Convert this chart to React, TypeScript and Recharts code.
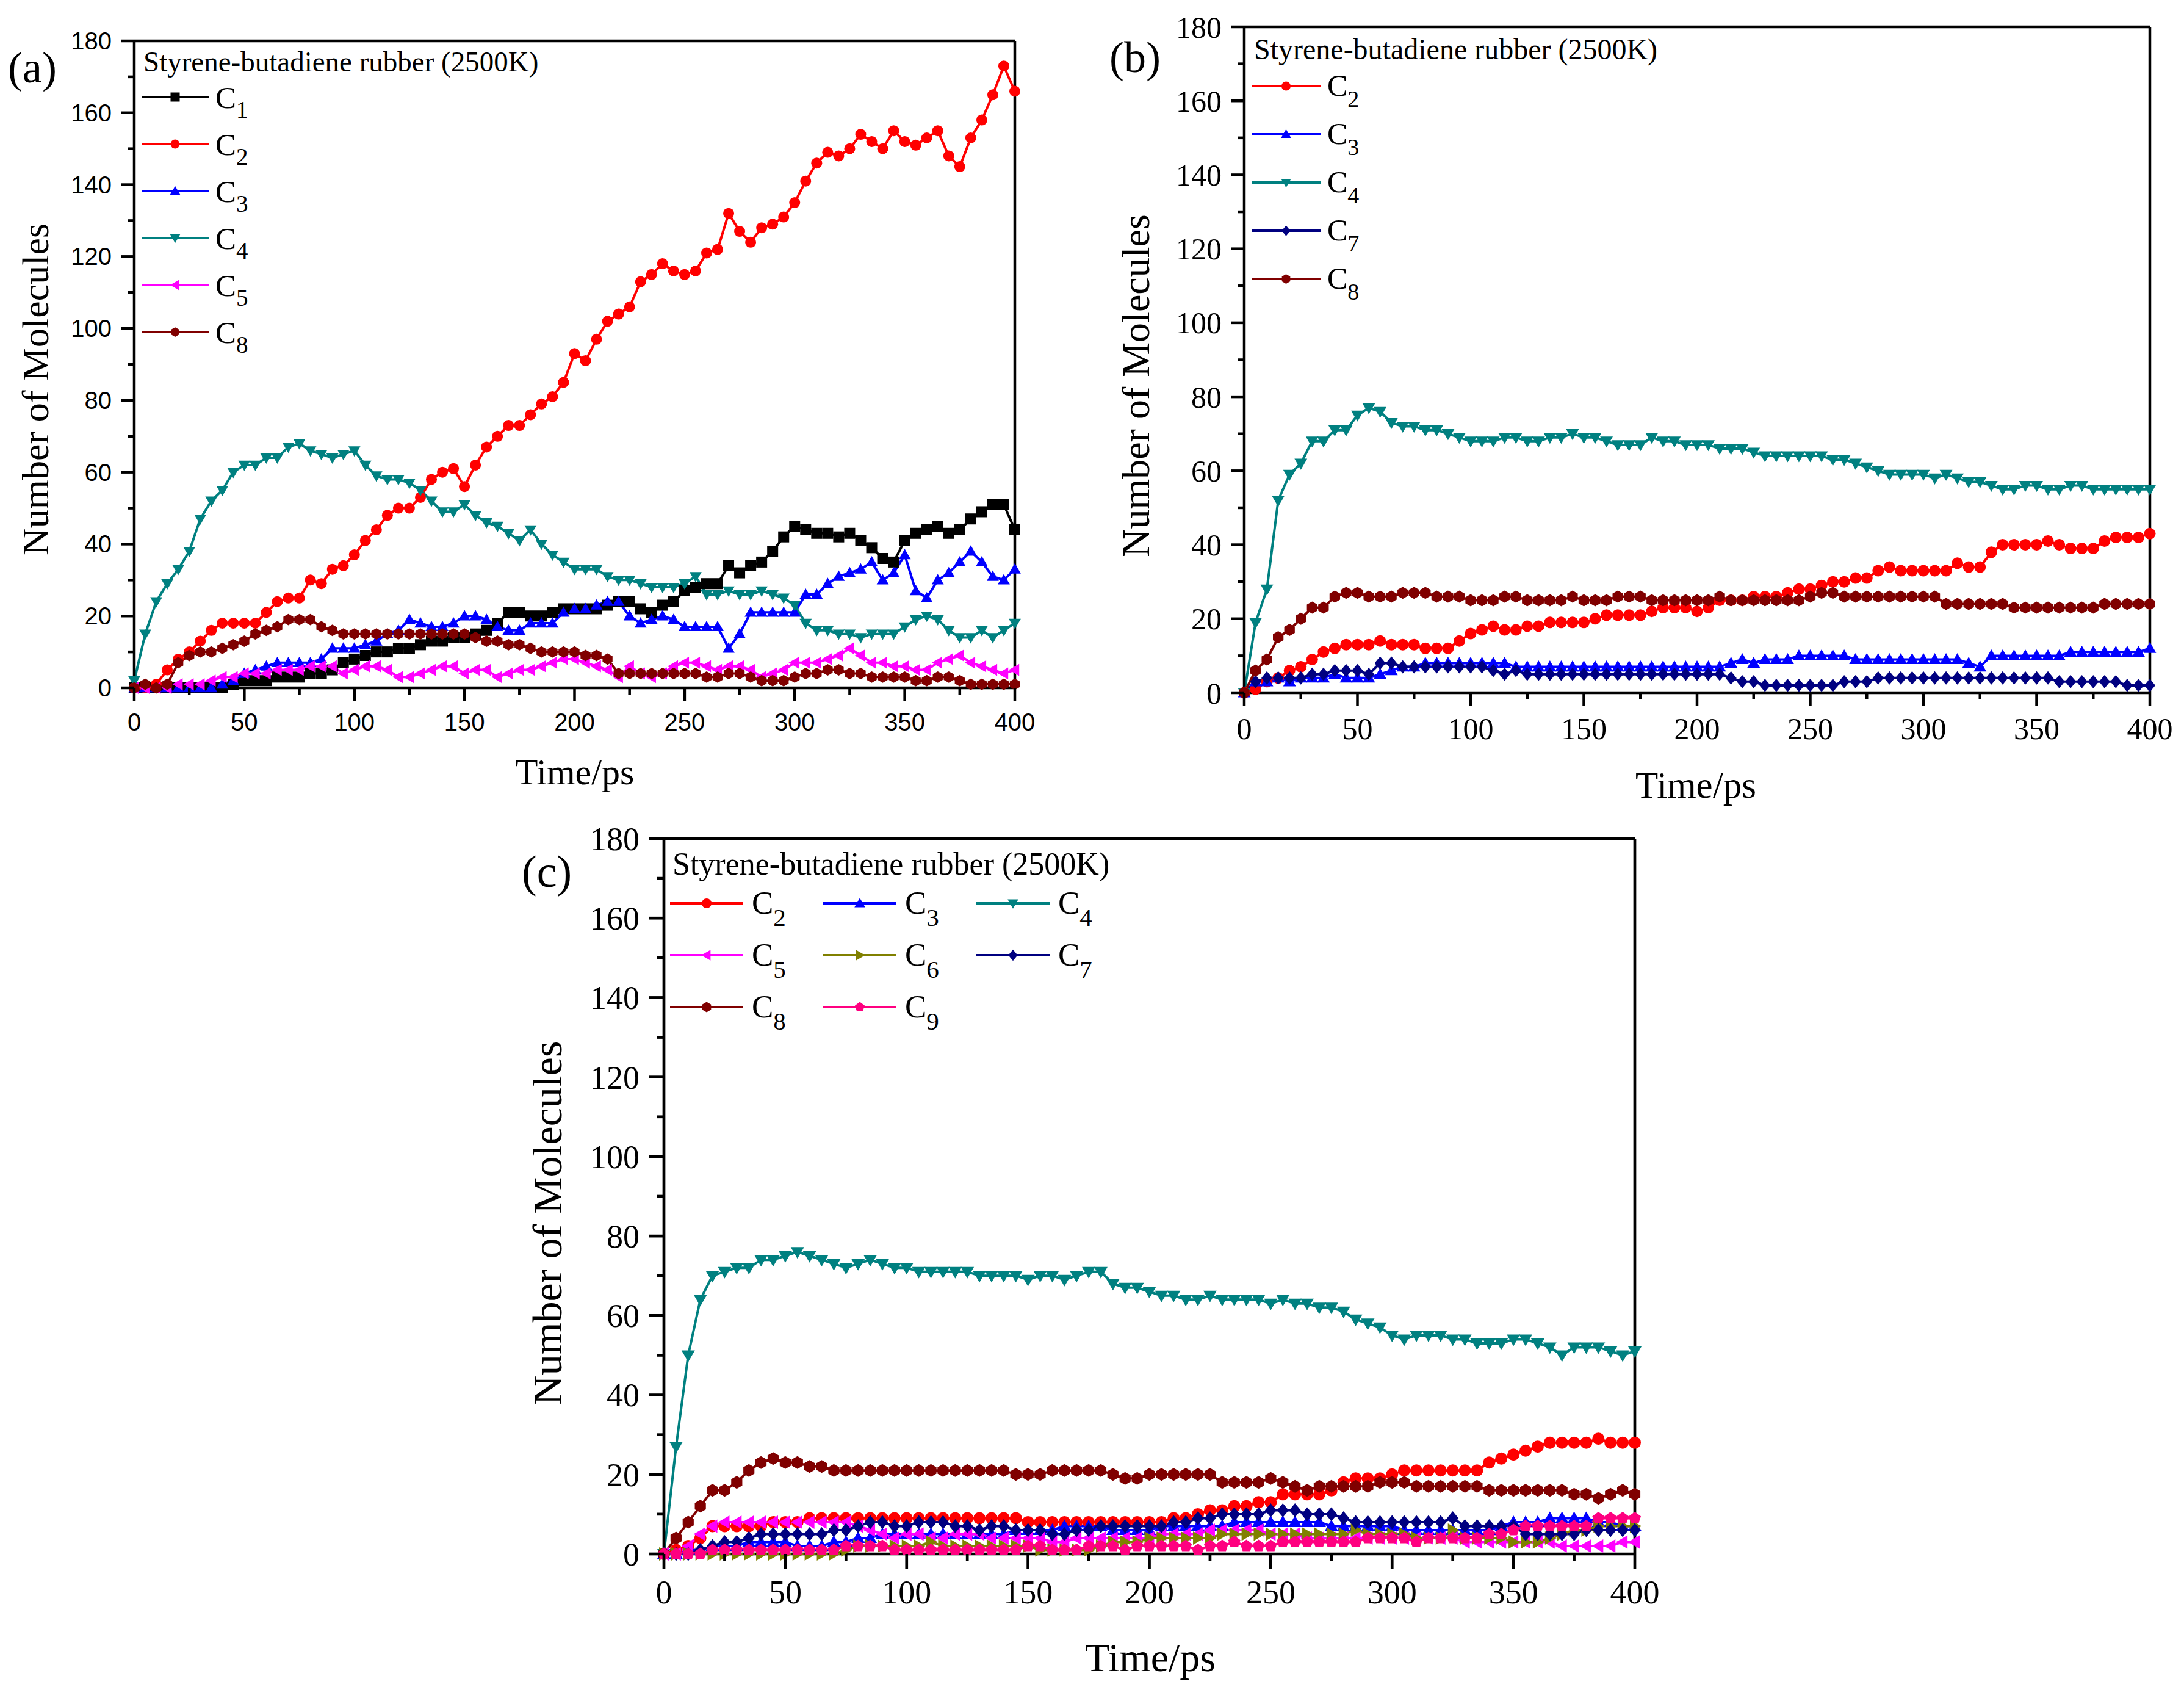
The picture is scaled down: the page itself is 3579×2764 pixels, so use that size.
import React from 'react';
import { LineChart, Line, XAxis, YAxis, ReferenceLine } from 'recharts';

// ---------- categories / ticks ----------
const timePs = [
  0, 5, 10, 15, 20, 25, 30, 35, 40, 45,
  50, 55, 60, 65, 70, 75, 80, 85, 90, 95,
  100, 105, 110, 115, 120, 125, 130, 135, 140, 145,
  150, 155, 160, 165, 170, 175, 180, 185, 190, 195,
  200, 205, 210, 215, 220, 225, 230, 235, 240, 245,
  250, 255, 260, 265, 270, 275, 280, 285, 290, 295,
  300, 305, 310, 315, 320, 325, 330, 335, 340, 345,
  350, 355, 360, 365, 370, 375, 380, 385, 390, 395,
  400,
];
const xTicks = [0, 25, 50, 75, 100, 125, 150, 175, 200, 225, 250, 275, 300, 325, 350, 375, 400];
const yTicks = [0, 10, 20, 30, 40, 50, 60, 70, 80, 90, 100, 110, 120, 130, 140, 150, 160, 170, 180];
const xMajorLabels = [0, 50, 100, 150, 200, 250, 300, 350, 400];
const yMajorLabels = [0, 20, 40, 60, 80, 100, 120, 140, 160, 180];

// ---------- panel (a) ----------
const aC1 = [
  0, 0, 0, 0, 0, 0, 0, 0, 0, 1,
  2, 2, 2, 3, 3, 3, 4, 4, 5, 7,
  8, 9, 10, 10, 11, 11, 12, 13, 13, 14,
  14, 15, 16, 18, 21, 21, 20, 20, 21, 22,
  22, 22, 22, 23, 24, 24, 22, 21, 23, 24,
  27, 28, 29, 29, 34, 32, 34, 35, 38, 42,
  45, 44, 43, 43, 42, 43, 41, 39, 36, 35,
  41, 43, 44, 45, 43, 44, 47, 49, 51, 51,
  44,
];
const aC2 = [
  0, 0, 1, 5, 8, 10, 13, 16, 18, 18,
  18, 18, 21, 24, 25, 25, 30, 29, 33, 34,
  37, 41, 44, 48, 50, 50, 53, 58, 60, 61,
  56, 62, 67, 70, 73, 73, 76, 79, 81, 85,
  93, 91, 97, 102, 104, 106, 113, 115, 118, 116,
  115, 116, 121, 122, 132, 127, 124, 128, 129, 131,
  135, 141, 146, 149, 148, 150, 154, 152, 150, 155,
  152, 151, 153, 155, 148, 145, 153, 158, 165, 173,
  166,
];
const aC3 = [
  0, 0, 0, 0, 0, 0, 0, 0, 1, 2,
  4, 5, 6, 7, 7, 7, 7, 8, 11, 11,
  11, 12, 13, 15, 16, 19, 18, 17, 17, 18,
  20, 20, 19, 17, 16, 16, 18, 18, 18, 21,
  22, 22, 23, 24, 24, 20, 18, 19, 20, 19,
  17, 17, 17, 17, 11, 15, 21, 21, 21, 21,
  21, 26, 26, 29, 31, 32, 33, 35, 30, 32,
  37, 27, 25, 30, 32, 35, 38, 35, 31, 30,
  33,
];
const aC4 = [
  2, 15, 24, 29, 33, 38, 47, 52, 55, 60,
  62, 62, 64, 64, 67, 68, 66, 65, 64, 65,
  66, 62, 59, 58, 58, 57, 55, 52, 49, 49,
  51, 48, 46, 45, 43, 41, 44, 40, 37, 35,
  33, 33, 33, 31, 30, 30, 29, 28, 28, 28,
  29, 31, 26, 26, 27, 26, 26, 27, 26, 25,
  23, 18, 16, 16, 15, 15, 14, 15, 15, 15,
  17, 19, 20, 19, 16, 14, 14, 16, 14, 16,
  18,
];
const aC5 = [
  0, 0, 0, 0, 1, 1, 1, 2, 3, 3,
  4, 4, 4, 5, 5, 5, 6, 6, 6, 4,
  5, 6, 6, 5, 3, 3, 4, 5, 6, 6,
  4, 5, 5, 3, 4, 5, 5, 6, 7, 8,
  8, 7, 6, 5, 3, 6, 4, 3, 4, 6,
  7, 7, 6, 5, 6, 6, 5, 3, 4, 5,
  7, 7, 7, 8, 9, 11, 9, 7, 7, 6,
  6, 5, 5, 7, 8, 9, 7, 6, 5, 4,
  5,
];
const aC8 = [
  0, 1, 0, 1, 7, 9, 10, 10, 11, 12,
  13, 15, 16, 17, 19, 19, 19, 17, 16, 15,
  15, 15, 15, 15, 15, 15, 15, 15, 15, 15,
  15, 14, 13, 13, 12, 12, 11, 10, 10, 10,
  10, 9, 9, 8, 4, 4, 4, 4, 4, 4,
  4, 4, 3, 3, 4, 4, 3, 2, 2, 2,
  3, 4, 4, 5, 5, 4, 4, 3, 3, 3,
  3, 2, 2, 3, 3, 2, 1, 1, 1, 1,
  1,
];

// ---------- panel (b) ----------
const bC2 = [
  0, 1, 3, 4, 6, 7, 9, 11, 12, 13,
  13, 13, 14, 13, 13, 13, 12, 12, 12, 14,
  16, 17, 18, 17, 17, 18, 18, 19, 19, 19,
  19, 20, 21, 21, 21, 21, 22, 23, 23, 23,
  22, 23, 25, 25, 25, 26, 26, 26, 27, 28,
  28, 29, 30, 30, 31, 31, 33, 34, 33, 33,
  33, 33, 33, 35, 34, 34, 38, 40, 40, 40,
  40, 41, 40, 39, 39, 39, 41, 42, 42, 42,
  43,
];
const bC3 = [
  0, 3, 3, 4, 3, 4, 4, 4, 5, 4,
  4, 4, 5, 6, 7, 7, 8, 8, 8, 8,
  8, 8, 8, 8, 7, 7, 7, 7, 7, 7,
  7, 7, 7, 7, 7, 7, 7, 7, 7, 7,
  7, 7, 7, 8, 9, 8, 9, 9, 9, 10,
  10, 10, 10, 10, 9, 9, 9, 9, 9, 9,
  9, 9, 9, 9, 8, 7, 10, 10, 10, 10,
  10, 10, 10, 11, 11, 11, 11, 11, 11, 11,
  12,
];
const bC4 = [
  0, 19, 28, 52, 59, 62, 68, 68, 71, 71,
  75, 77, 76, 73, 72, 72, 71, 71, 70, 69,
  68, 68, 68, 69, 69, 68, 68, 69, 69, 70,
  69, 69, 68, 67, 67, 67, 69, 68, 68, 67,
  67, 67, 66, 66, 66, 65, 64, 64, 64, 64,
  64, 64, 63, 63, 62, 61, 60, 59, 59, 59,
  59, 58, 59, 58, 57, 57, 56, 55, 55, 56,
  56, 55, 55, 56, 56, 55, 55, 55, 55, 55,
  55,
];
const bC7 = [
  0, 3, 4, 4, 4, 4, 5, 5, 6, 6,
  6, 5, 8, 8, 7, 7, 7, 7, 7, 7,
  7, 7, 6, 5, 6, 5, 5, 5, 5, 5,
  5, 5, 5, 5, 5, 5, 5, 5, 5, 5,
  5, 5, 5, 4, 3, 3, 2, 2, 2, 2,
  2, 2, 2, 3, 3, 3, 4, 4, 4, 4,
  4, 4, 4, 4, 4, 4, 4, 4, 4, 4,
  4, 4, 3, 3, 3, 3, 3, 3, 2, 2,
  2,
];
const bC8 = [
  0, 6, 9, 15, 17, 20, 23, 23, 26, 27,
  27, 26, 26, 26, 27, 27, 27, 26, 26, 26,
  25, 25, 25, 26, 26, 25, 25, 25, 25, 26,
  25, 25, 25, 26, 26, 26, 25, 25, 25, 25,
  25, 25, 26, 25, 25, 25, 25, 25, 25, 25,
  26, 27, 27, 26, 26, 26, 26, 26, 26, 26,
  26, 26, 24, 24, 24, 24, 24, 24, 23, 23,
  23, 23, 23, 23, 23, 23, 24, 24, 24, 24,
  24,
];

// ---------- panel (c) ----------
const cC2 = [
  0, 1, 2, 4, 7, 7, 7, 7, 7, 8,
  8, 8, 9, 9, 9, 9, 9, 9, 9, 9,
  9, 9, 9, 9, 9, 9, 9, 9, 9, 9,
  8, 8, 8, 8, 8, 8, 8, 8, 8, 8,
  8, 8, 9, 9, 10, 11, 11, 12, 12, 13,
  13, 15, 15, 15, 15, 16, 18, 19, 19, 19,
  20, 21, 21, 21, 21, 21, 21, 21, 23, 24,
  25, 26, 27, 28, 28, 28, 28, 29, 28, 28,
  28,
];
const cC3 = [
  0, 0, 1, 1, 2, 2, 2, 3, 3, 3,
  3, 2, 2, 2, 3, 3, 4, 4, 5, 5,
  5, 5, 5, 5, 5, 5, 5, 5, 5, 6,
  6, 6, 6, 7, 7, 7, 7, 6, 6, 6,
  6, 7, 7, 7, 7, 7, 7, 8, 8, 8,
  8, 8, 8, 8, 8, 7, 7, 7, 7, 7,
  7, 6, 6, 6, 6, 6, 6, 6, 6, 7,
  8, 8, 8, 9, 9, 9, 9, 8, 8, 7,
  7,
];
const cC4 = [
  0, 27, 50, 64, 70, 71, 72, 72, 74, 74,
  75, 76, 75, 74, 73, 72, 73, 74, 73, 72,
  72, 71, 71, 71, 71, 71, 70, 70, 70, 70,
  69, 70, 70, 69, 70, 71, 71, 68, 67, 67,
  66, 65, 65, 64, 64, 65, 64, 64, 64, 64,
  63, 64, 63, 63, 62, 62, 61, 59, 58, 57,
  55, 54, 55, 55, 55, 54, 54, 53, 53, 53,
  54, 54, 53, 52, 50, 52, 52, 52, 51, 50,
  51,
];
const cC5 = [
  0, 0, 2, 5, 7, 8, 8, 8, 8, 8,
  8, 8, 8, 8, 8, 8, 7, 6, 5, 4,
  5, 5, 4, 4, 5, 5, 5, 4, 4, 4,
  4, 4, 3, 3, 4, 4, 4, 4, 4, 4,
  4, 5, 5, 5, 5, 6, 6, 6, 6, 6,
  5, 5, 5, 4, 4, 4, 4, 4, 4, 4,
  4, 4, 4, 4, 4, 4, 3, 3, 3, 3,
  3, 3, 3, 3, 2, 2, 2, 2, 2, 3,
  3,
];
const cC6 = [
  0, 0, 0, 0, 0, 0, 0, 0, 0, 0,
  0, 0, 0, 0, 0, 1, 2, 2, 2, 2,
  2, 2, 3, 2, 2, 2, 2, 2, 2, 2,
  2, 1, 1, 1, 1, 1, 2, 3, 3, 3,
  4, 4, 4, 4, 4, 4, 5, 5, 5, 5,
  5, 5, 5, 5, 5, 5, 5, 6, 5, 5,
  5, 5, 4, 4, 4, 6, 4, 4, 4, 4,
  3, 3, 3, 4, 5, 6, 6, 7, 7, 7,
  7,
];
const cC7 = [
  0, 0, 0, 1, 2, 3, 3, 4, 5, 5,
  5, 5, 5, 5, 6, 6, 7, 8, 8, 7,
  7, 8, 8, 8, 7, 7, 6, 7, 7, 6,
  6, 6, 5, 5, 6, 6, 7, 7, 7, 7,
  7, 7, 8, 8, 9, 9, 10, 10, 10, 10,
  11, 11, 11, 10, 10, 10, 9, 8, 8, 8,
  8, 8, 8, 8, 8, 9, 7, 7, 7, 7,
  7, 5, 5, 5, 5, 5, 6, 6, 6, 6,
  6,
];
const cC8 = [
  0, 4, 8, 12, 16, 16, 18, 21, 23, 24,
  23, 23, 22, 22, 21, 21, 21, 21, 21, 21,
  21, 21, 21, 21, 21, 21, 21, 21, 21, 20,
  20, 20, 21, 21, 21, 21, 21, 20, 19, 19,
  20, 20, 20, 20, 20, 20, 18, 18, 18, 18,
  19, 18, 17, 16, 17, 17, 17, 17, 17, 18,
  18, 18, 17, 17, 17, 17, 17, 17, 16, 16,
  16, 16, 16, 16, 16, 15, 15, 14, 15, 16,
  15,
];
const cC9 = [
  0, 0, 0, 0, 1, 1, 1, 1, 1, 1,
  1, 1, 1, 1, 1, 2, 2, 2, 2, 1,
  1, 1, 1, 1, 1, 1, 1, 1, 1, 1,
  2, 2, 1, 1, 1, 2, 2, 2, 1, 2,
  2, 2, 2, 2, 1, 2, 2, 3, 2, 2,
  2, 3, 3, 3, 3, 3, 3, 3, 4, 4,
  4, 4, 3, 4, 4, 4, 4, 4, 5, 5,
  6, 7, 7, 7, 7, 7, 7, 9, 9, 9,
  9,
];

// ---------- styling ----------
const SERIF = "'Liberation Serif', 'Times New Roman', Times, serif";
const SANS = "'Liberation Sans', Arial, Helvetica, sans-serif";
const TITLE = 'Styrene-butadiene rubber (2500K)';

type Shape = 'square' | 'circle' | 'triUp' | 'triDown' | 'triLeft' | 'triRight' | 'diamond' | 'hexagon' | 'pentagon';

interface SeriesDef { key: string; sub: string; color: string; shape: Shape; values: number[] }

const seriesA: SeriesDef[] = [
  { key: 'c1', sub: '1', color: '#000000', shape: 'square', values: aC1 },
  { key: 'c2', sub: '2', color: '#FF0000', shape: 'circle', values: aC2 },
  { key: 'c3', sub: '3', color: '#0000FF', shape: 'triUp', values: aC3 },
  { key: 'c4', sub: '4', color: '#008080', shape: 'triDown', values: aC4 },
  { key: 'c5', sub: '5', color: '#FF00FF', shape: 'triLeft', values: aC5 },
  { key: 'c8', sub: '8', color: '#800000', shape: 'hexagon', values: aC8 },
];
const seriesB: SeriesDef[] = [
  { key: 'c2', sub: '2', color: '#FF0000', shape: 'circle', values: bC2 },
  { key: 'c3', sub: '3', color: '#0000FF', shape: 'triUp', values: bC3 },
  { key: 'c4', sub: '4', color: '#008080', shape: 'triDown', values: bC4 },
  { key: 'c7', sub: '7', color: '#000080', shape: 'diamond', values: bC7 },
  { key: 'c8', sub: '8', color: '#800000', shape: 'hexagon', values: bC8 },
];
const seriesC: SeriesDef[] = [
  { key: 'c2', sub: '2', color: '#FF0000', shape: 'circle', values: cC2 },
  { key: 'c3', sub: '3', color: '#0000FF', shape: 'triUp', values: cC3 },
  { key: 'c4', sub: '4', color: '#008080', shape: 'triDown', values: cC4 },
  { key: 'c5', sub: '5', color: '#FF00FF', shape: 'triLeft', values: cC5 },
  { key: 'c6', sub: '6', color: '#808000', shape: 'triRight', values: cC6 },
  { key: 'c7', sub: '7', color: '#000080', shape: 'diamond', values: cC7 },
  { key: 'c8', sub: '8', color: '#800000', shape: 'hexagon', values: cC8 },
  { key: 'c9', sub: '9', color: '#FF0080', shape: 'pentagon', values: cC9 },
];

function buildRows(series: SeriesDef[]) {
  return timePs.map((t, i) => {
    const row: Record<string, number> = { t };
    series.forEach((s) => { row[s.key] = s.values[i]; });
    return row;
  });
}

function polyPoints(cx: number, cy: number, r: number, n: number, rot: number) {
  const pts: string[] = [];
  for (let k = 0; k < n; k++) {
    const a = rot + (k * 2 * Math.PI) / n;
    pts.push(`${cx + r * Math.cos(a)},${cy + r * Math.sin(a)}`);
  }
  return pts.join(' ');
}

function Marker({ cx, cy, shape, color, size }: { cx: number; cy: number; shape: Shape; color: string; size: number }) {
  const h = size / 2;
  switch (shape) {
    case 'square':
      return <rect x={cx - h} y={cy - h} width={size} height={size} fill={color} />;
    case 'circle':
      return <circle cx={cx} cy={cy} r={h} fill={color} />;
    case 'triUp':
      return <polygon points={`${cx},${cy - h * 1.1} ${cx - h * 1.1},${cy + h * 0.8} ${cx + h * 1.1},${cy + h * 0.8}`} fill={color} />;
    case 'triDown':
      return <polygon points={`${cx},${cy + h * 1.1} ${cx - h * 1.1},${cy - h * 0.8} ${cx + h * 1.1},${cy - h * 0.8}`} fill={color} />;
    case 'triLeft':
      return <polygon points={`${cx - h * 1.1},${cy} ${cx + h * 0.8},${cy - h * 1.1} ${cx + h * 0.8},${cy + h * 1.1}`} fill={color} />;
    case 'triRight':
      return <polygon points={`${cx + h * 1.1},${cy} ${cx - h * 0.8},${cy - h * 1.1} ${cx - h * 0.8},${cy + h * 1.1}`} fill={color} />;
    case 'diamond':
      return <polygon points={`${cx},${cy - h * 1.15} ${cx + h * 0.95},${cy} ${cx},${cy + h * 1.15} ${cx - h * 0.95},${cy}`} fill={color} />;
    case 'hexagon':
      return <polygon points={polyPoints(cx, cy, h * 1.05, 6, -Math.PI / 2)} fill={color} />;
    case 'pentagon':
    default:
      return <polygon points={polyPoints(cx, cy, h * 1.05, 5, -Math.PI / 2)} fill={color} />;
  }
}

interface PanelDef {
  box: { left: number; top: number; width: number; height: number };
  margin: { top: number; right: number; bottom: number; left: number };
  yAxisW: number;
  xAxisH: number;
  tickFont: string;
  tickSize: number;
  major: number;
  minor: number;
  axisW: number;
  yLabelGap: number;
  xLabelBase: number;
  markerSize: number;
  lineW: number;
}

const panelA: PanelDef = {
  box: { left: 0, top: 0, width: 1780, height: 1340 },
  margin: { top: 67, right: 117, bottom: 0, left: 0 },
  yAxisW: 220, xAxisH: 213, tickFont: SANS, tickSize: 40, major: 21, minor: 11, axisW: 4.5,
  yLabelGap: 37, xLabelBase: 70, markerSize: 18, lineW: 4,
};
const panelB: PanelDef = {
  box: { left: 1780, top: 0, width: 1799, height: 1340 },
  margin: { top: 44, right: 56, bottom: 0, left: 0 },
  yAxisW: 259, xAxisH: 205, tickFont: SERIF, tickSize: 50, major: 22, minor: 11, axisW: 4.5,
  yLabelGap: 37, xLabelBase: 76, markerSize: 19, lineW: 4,
};
const panelC: PanelDef = {
  box: { left: 800, top: 1340, width: 2000, height: 1424 },
  margin: { top: 34, right: 121, bottom: 0, left: 0 },
  yAxisW: 288, xAxisH: 218, tickFont: SERIF, tickSize: 54, major: 24, minor: 12, axisW: 4.7,
  yLabelGap: 40, xLabelBase: 81, markerSize: 20, lineW: 4,
};

function Panel({ p, series }: { p: PanelDef; series: SeriesDef[] }) {
  const rows = buildRows(series);
  const xTick = (props: any) => {
    const { x, y, payload } = props;
    const isMajor = xMajorLabels.includes(payload.value);
    return (
      <g>
        <line x1={x} x2={x} y1={y} y2={y + (isMajor ? p.major : p.minor)} stroke="#000" strokeWidth={p.axisW} />
        {isMajor && (
          <text x={x} y={y + p.xLabelBase} textAnchor="middle" fontFamily={p.tickFont} fontSize={p.tickSize} fill="#000">
            {payload.value}
          </text>
        )}
      </g>
    );
  };
  const yTick = (props: any) => {
    const { x, y, payload } = props;
    const isMajor = yMajorLabels.includes(payload.value);
    return (
      <g>
        <line x1={x} x2={x - (isMajor ? p.major : p.minor)} y1={y} y2={y} stroke="#000" strokeWidth={p.axisW} />
        {isMajor && (
          <text x={x - p.yLabelGap} y={y + p.tickSize * 0.35} textAnchor="end" fontFamily={p.tickFont} fontSize={p.tickSize} fill="#000">
            {payload.value}
          </text>
        )}
      </g>
    );
  };
  return (
    <div style={{ position: 'absolute', left: p.box.left, top: p.box.top, width: p.box.width, height: p.box.height }}>
      <LineChart width={p.box.width} height={p.box.height} data={rows} margin={p.margin}>
        <XAxis
          dataKey="t" type="number" domain={[0, 400]} ticks={xTicks} interval={0}
          tickLine={false} tickSize={0} tickMargin={0} height={p.xAxisH}
          axisLine={{ stroke: '#000', strokeWidth: p.axisW }} tick={xTick}
        />
        <YAxis
          type="number" domain={[0, 180]} ticks={yTicks} interval={0}
          tickLine={false} tickSize={0} tickMargin={0} width={p.yAxisW}
          axisLine={{ stroke: '#000', strokeWidth: p.axisW }} tick={yTick}
        />
        <ReferenceLine y={180} stroke="#000" strokeWidth={p.axisW} />
        <ReferenceLine x={400} stroke="#000" strokeWidth={p.axisW} />
        {series.map((s) => (
          <Line
            key={s.key}
            dataKey={s.key}
            type="linear"
            stroke={s.color}
            strokeWidth={p.lineW}
            isAnimationActive={false}
            activeDot={false}
            dot={(dp: any) => (
              <Marker key={`${s.key}-${dp.index}`} cx={dp.cx} cy={dp.cy} shape={s.shape} color={s.color} size={p.markerSize} />
            )}
          />
        ))}
      </LineChart>
    </div>
  );
}

interface LegendDef {
  titleX: number; titleY: number; titleSize: number;
  rowYs: number[]; cols: number; colDx: number;
  x1: number; x2: number; labelX: number;
  cSize: number; subSize: number; baseDy: number; subDy: number;
  markerSize: number; lineW: number;
}

const legendA: LegendDef = {
  titleX: 235, titleY: 117, titleSize: 47, rowYs: [159, 236, 313, 390, 467, 544], cols: 1, colDx: 0,
  x1: 232, x2: 342, labelX: 353, cSize: 51, subSize: 39, baseDy: 18, subDy: 16, markerSize: 15, lineW: 4,
};
const legendB: LegendDef = {
  titleX: 2055, titleY: 97, titleSize: 48, rowYs: [141, 220, 299, 378, 457], cols: 1, colDx: 0,
  x1: 2051, x2: 2164, labelX: 2175, cSize: 50, subSize: 38, baseDy: 16, subDy: 18, markerSize: 15, lineW: 4,
};
const legendC: LegendDef = {
  titleX: 1102, titleY: 1433, titleSize: 52, rowYs: [1480, 1565, 1650], cols: 3, colDx: 251,
  x1: 1098, x2: 1218, labelX: 1232, cSize: 53, subSize: 41, baseDy: 17, subDy: 20, markerSize: 16, lineW: 4,
};

function LegendBlock({ l, series }: { l: LegendDef; series: SeriesDef[] }) {
  return (
    <g>
      <text x={l.titleX} y={l.titleY} fontFamily={SERIF} fontSize={l.titleSize} fill="#000">{TITLE}</text>
      {series.map((s, i) => {
        const row = Math.floor(i / l.cols);
        const col = i % l.cols;
        const dx = col * l.colDx;
        const cy = l.rowYs[row];
        return (
          <g key={s.key}>
            <line x1={l.x1 + dx} x2={l.x2 + dx} y1={cy} y2={cy} stroke={s.color} strokeWidth={l.lineW} />
            <Marker cx={(l.x1 + l.x2) / 2 + dx} cy={cy} shape={s.shape} color={s.color} size={l.markerSize} />
            <text x={l.labelX + dx} y={cy + l.baseDy} fontFamily={SERIF} fontSize={l.cSize} fill="#000">
              C<tspan dy={l.subDy} fontSize={l.subSize}>{s.sub}</tspan>
            </text>
          </g>
        );
      })}
    </g>
  );
}

function Overlay() {
  return (
    <svg width={3579} height={2764} style={{ position: 'absolute', left: 0, top: 0, pointerEvents: 'none' }}>
      <text x={13} y={135} fontFamily={SERIF} fontSize={72} fill="#000">(a)</text>
      <text x={1818} y={118} fontFamily={SERIF} fontSize={72} fill="#000">(b)</text>
      <text x={855} y={1453} fontFamily={SERIF} fontSize={74} fill="#000">(c)</text>
      <text x={942} y={1285} textAnchor="middle" fontFamily={SERIF} fontSize={60} fill="#000">Time/ps</text>
      <text x={79} y={638} textAnchor="middle" fontFamily={SERIF} fontSize={62} fill="#000" transform="rotate(-90 79 638)">Number of Molecules</text>
      <text x={2779} y={1307} textAnchor="middle" fontFamily={SERIF} fontSize={61} fill="#000">Time/ps</text>
      <text x={1883} y={632} textAnchor="middle" fontFamily={SERIF} fontSize={64} fill="#000" transform="rotate(-90 1883 632)">Number of Molecules</text>
      <text x={1885} y={2738} textAnchor="middle" fontFamily={SERIF} fontSize={66} fill="#000">Time/ps</text>
      <text x={920} y={2004} textAnchor="middle" fontFamily={SERIF} fontSize={68} fill="#000" transform="rotate(-90 920 2004)">Number of Molecules</text>
      <LegendBlock l={legendA} series={seriesA} />
      <LegendBlock l={legendB} series={seriesB} />
      <LegendBlock l={legendC} series={seriesC} />
    </svg>
  );
}

export default function App() {
  return (
    <div style={{ position: 'relative', width: 3579, height: 2764, background: '#fff', overflow: 'hidden' }}>
      <style>{'body{margin:0;background:#fff;}'}</style>
      <Panel p={panelA} series={seriesA} />
      <Panel p={panelB} series={seriesB} />
      <Panel p={panelC} series={seriesC} />
      <Overlay />
    </div>
  );
}
